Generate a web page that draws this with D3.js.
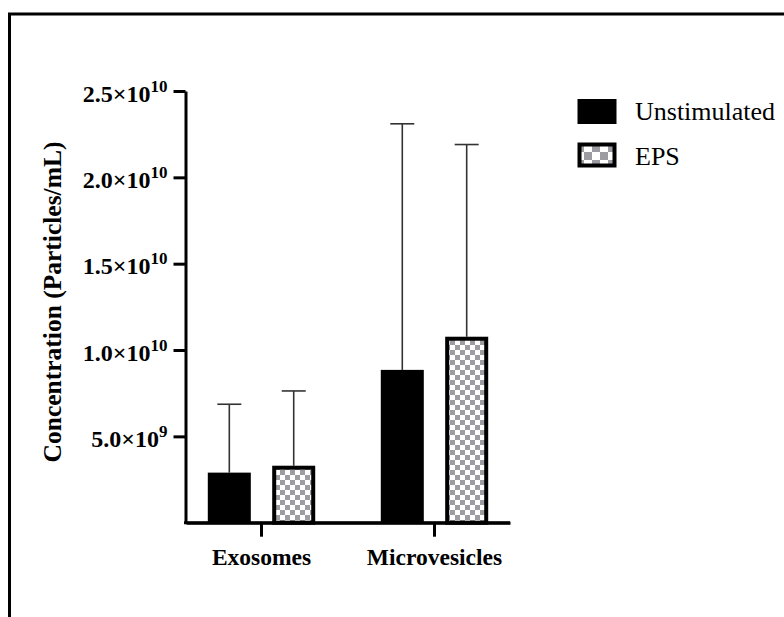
<!DOCTYPE html>
<html>
<head>
<meta charset="utf-8">
<script src="https://cdn.jsdelivr.net/npm/d3@7"></script>
<style>
  html, body { margin: 0; padding: 0; background: #fff; }
  svg { display: block; }
</style>
</head>
<body>
<svg id="chart" width="784" height="617"></svg>
<script>
// ---- data ----
const categories = ["Exosomes", "Microvesicles"];
const seriesNames = ["Unstimulated", "EPS"];
const unstimulatedMean = [2.9e9, 8.85e9];
const unstimulatedSD = [3.96e9, 14.25e9];
const epsMean = [3.3e9, 10.77e9];
const epsSD = [4.33e9, 11.13e9];
const yTickValues = [5e9, 1e10, 1.5e10, 2e10, 2.5e10];
const yTickMantissa = ["5.0×10", "1.0×10", "1.5×10", "2.0×10", "2.5×10"];
const yTickExponent = ["9", "10", "10", "10", "10"];
const yTitle = "Concentration (Particles/mL)";

const rows = [];
categories.forEach((c, i) => {
  rows.push({cat: c, series: seriesNames[0], mean: unstimulatedMean[i], sd: unstimulatedSD[i]});
  rows.push({cat: c, series: seriesNames[1], mean: epsMean[i], sd: epsSD[i]});
});

const svg = d3.select("#chart");
const FONT = "'Liberation Serif', 'Times New Roman', serif";

// frame
svg.append("rect")
  .attr("x", 9.5).attr("y", 14)
  .attr("width", 800).attr("height", 700)
  .attr("fill", "none").attr("stroke", "#000").attr("stroke-width", 3);

// defs: checker patterns
const defs = svg.append("defs");
function checker(id, cell) {
  const p = defs.append("pattern").attr("id", id)
    .attr("patternUnits", "userSpaceOnUse")
    .attr("width", cell * 2).attr("height", cell * 2);
  p.append("rect").attr("width", cell * 2).attr("height", cell * 2).attr("fill", "#fff");
  p.append("rect").attr("x", 0).attr("y", 0).attr("width", cell).attr("height", cell).attr("fill", "#9c9ca2");
  p.append("rect").attr("x", cell).attr("y", cell).attr("width", cell).attr("height", cell).attr("fill", "#9c9ca2");
}
checker("chk", 5);
checker("chkLegend", 8);

// scales
const x0 = d3.scaleBand().domain(categories).range([186, 510])
  .paddingInner(0.379).paddingOuter(0.126);
const x1 = d3.scaleBand().domain(seriesNames).range([0, x0.bandwidth()])
  .paddingInner(0.332).paddingOuter(0);
const y = d3.scaleLinear().domain([0, 2.5e10]).range([522.7, 91]);

// y axis
const yAxis = svg.append("g").attr("transform", "translate(185.5,0)")
  .call(d3.axisLeft(y).tickValues(yTickValues).tickSize(12).tickSizeOuter(0).tickPadding(6).tickFormat(""));
yAxis.select(".domain").attr("stroke-width", 3).attr("stroke", "#000");
yAxis.selectAll(".tick line").attr("stroke-width", 3).attr("stroke", "#000");
yAxis.selectAll(".tick text").each(function(d, i) {
  const t = d3.select(this);
  t.text(null)
    .attr("font-family", FONT).attr("font-weight", "bold").attr("font-size", 24)
    .attr("fill", "#000").attr("dy", "0.42em");
  t.append("tspan").text(yTickMantissa[i]);
  t.append("tspan").attr("font-size", 17).attr("dy", -10).text(yTickExponent[i]);
});

// x axis
const xAxis = svg.append("g").attr("transform", "translate(0,522.7)")
  .call(d3.axisBottom(x0).tickSize(14).tickSizeOuter(0).tickPadding(12));
xAxis.select(".domain").attr("stroke-width", 3).attr("stroke", "#000");
xAxis.selectAll(".tick line").attr("stroke-width", 3).attr("stroke", "#000");
xAxis.selectAll(".tick text")
  .attr("font-family", FONT).attr("font-weight", "bold").attr("font-size", 23.5)
  .attr("fill", "#000");

// bars
const g = svg.append("g");
rows.forEach(r => {
  const bx = x0(r.cat) + x1(r.series);
  const bw = x1.bandwidth();
  const cx = bx + bw / 2;
  // error bar (up only)
  g.append("line").attr("x1", cx).attr("x2", cx)
    .attr("y1", y(r.mean)).attr("y2", y(r.mean + r.sd))
    .attr("stroke", "#333").attr("stroke-width", 1.6);
  g.append("line").attr("x1", cx - 12).attr("x2", cx + 12)
    .attr("y1", y(r.mean + r.sd)).attr("y2", y(r.mean + r.sd))
    .attr("stroke", "#333").attr("stroke-width", 1.6);
  if (r.series === seriesNames[0]) {
    g.append("rect").attr("x", bx).attr("y", y(r.mean))
      .attr("width", bw).attr("height", y(0) - y(r.mean)).attr("fill", "#000");
  } else {
    g.append("rect").attr("x", bx + 2).attr("y", y(r.mean) + 2)
      .attr("width", bw - 4).attr("height", y(0) - y(r.mean) - 2)
      .attr("fill", "url(#chk)").attr("stroke", "#000").attr("stroke-width", 4);
  }
});

// redraw x axis domain on top of bar bottoms
svg.append("line").attr("x1", 184).attr("x2", 510).attr("y1", 522.7).attr("y2", 522.7)
  .attr("stroke", "#000").attr("stroke-width", 3);

// y title
svg.append("text")
  .attr("transform", "translate(61,302) rotate(-90)")
  .attr("text-anchor", "middle")
  .attr("font-family", FONT).attr("font-weight", "bold").attr("font-size", 25.5)
  .attr("fill", "#000").text(yTitle);

// legend
const legend = svg.append("g");
seriesNames.forEach((s, i) => {
  const ly = 99 + i * 44.5;
  if (i === 0) {
    legend.append("rect").attr("x", 577.5).attr("y", ly).attr("width", 39).attr("height", 25).attr("fill", "#000");
  } else {
    legend.append("rect").attr("x", 579.5).attr("y", ly + 1).attr("width", 35).attr("height", 21)
      .attr("fill", "url(#chkLegend)").attr("stroke", "#000").attr("stroke-width", 4);
  }
  legend.append("text").attr("x", 635).attr("y", ly + 21)
    .attr("font-family", FONT).attr("font-size", 26).attr("fill", "#000").text(s);
});
</script>
</body>
</html>
